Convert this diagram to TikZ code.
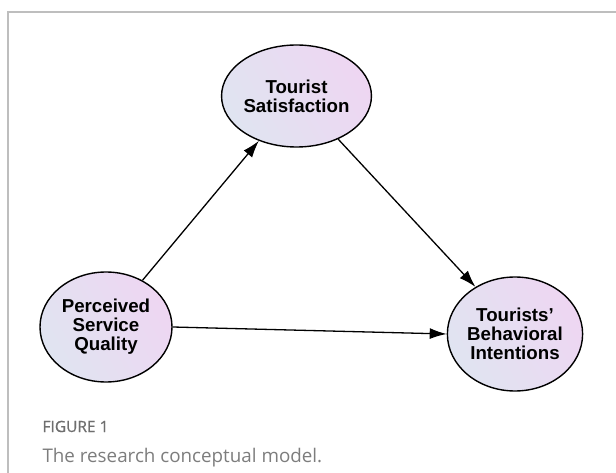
\documentclass[tikz,border=0pt]{standalone}
\usepackage{fontspec}
\setmainfont{Liberation Sans}
\newfontfamily\capfont{Open Sans}
\newfontfamily\figfont[FakeBold=0.7]{Open Sans}
\usetikzlibrary{shapes.geometric, arrows.meta}
\definecolor{framegray}{RGB}{190,190,190}
\definecolor{capgray}{RGB}{125,125,125}
\definecolor{figgray}{RGB}{110,110,110}
\definecolor{fillblue}{RGB}{224,228,241}
\definecolor{fillpink}{RGB}{238,214,242}

\begin{document}
\begin{tikzpicture}[x = 1pt, y = -1pt,
  construct/.style = {ellipse, draw, line width = 1.4pt, align = center,
    font = \fontsize{18.7}{19}\selectfont\bfseries, inner sep = 0pt,
    left color = fillblue, right color = fillpink, shading angle = 120},
  path/.style = {-{Latex[length = 17pt, width = 11pt]}, line width = 1.3pt}]
\useasboundingbox (0, 0) rectangle (616, 473);
\draw [line width = 1.5pt, color = framegray] (616, 12) -- (8, 12) -- (8, 473);
\node (ts) [construct, minimum width = 131pt, minimum height = 102pt] at (296.5, 96) {Tourist\\Satisfaction};
\node (ps) [construct, minimum width = 132pt, minimum height = 110pt] at (106, 327) {Perceived\\Service\\Quality};
\node (bi) [construct, minimum width = 133pt, minimum height = 114pt] at (515, 334) {Tourists\char39\\Behavioral\\Intentions};
\draw [path] (ps.52) to (ts.230);
\draw [path] (ts.-46) to (bi.130);
\draw [path] (ps.east) to (bi.west);
\node (fig) [anchor = base west, text = figgray, font = \figfont\fontsize{15.5}{17}\selectfont] at (39, 432) {FIGURE 1};
\node (cap) [anchor = base west, text = capgray, font = \capfont\fontsize{18.8}{21}\selectfont] at (39, 462) {The research conceptual model.};
\end{tikzpicture}
\end{document}
